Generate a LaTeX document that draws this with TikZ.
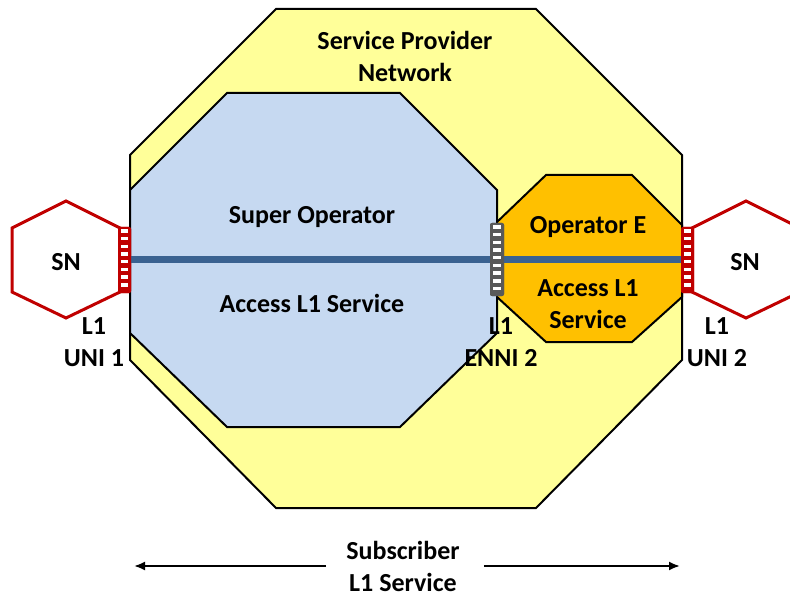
\documentclass[tikz,border=0pt]{standalone}
\usepackage{fontspec}
\setmainfont{Carlito}
\usetikzlibrary{arrows,arrows.meta,positioning}
\definecolor{spnyellow}{HTML}{FFFF99}
\definecolor{opblue}{HTML}{C6D9F1}
\definecolor{oporange}{HTML}{FFC000}
\definecolor{svcblue}{HTML}{3A6291}
\definecolor{snred}{HTML}{C00000}
\definecolor{enngray}{HTML}{595959}

\begin{document}
\begin{tikzpicture}[x=1pt,y=-1pt,>={Latex[length=11pt,width=9pt]},
  txt/.style={font=\fontsize{26}{32}\selectfont\bfseries,align=center,inner sep=0pt},
  octo/.style={draw=black,line width=2pt,line join=miter},
  sn/.style={draw=snred,line width=3pt,line join=miter},
  port/.style={rounded corners=2pt,minimum width=13pt,minimum height=66pt,inner sep=0pt},
  bars/.style={draw=white,line width=7pt,dash pattern=on 3.4pt off 4.3pt}]
\useasboundingbox (0,0) rectangle (790,596);
\clip (0,0) rectangle (790,596);
\draw[octo,fill=spnyellow] (130,155) -- (276,9) -- (536,9) -- (682,155) -- (682,360) -- (536,508) -- (276,508) -- (130,360) -- cycle;
\draw[octo,fill=opblue] (130,190) -- (227,93) -- (400,93) -- (497,190) -- (497,333) -- (400,427) -- (227,427) -- (130,333) -- cycle;
\draw[octo,fill=oporange] (497,222) -- (546,175) -- (632,175) -- (682,225) -- (682,297) -- (632,342) -- (546,342) -- (497,297) -- cycle;
\draw[sn] (66,201) -- (120,228) -- (120,292) -- (66,318) -- (12,292) -- (12,228) -- cycle;
\draw[sn] (746,201) -- (800,228) -- (800,292) -- (746,318) -- (692,292) -- (692,228) -- cycle;
\node[port,fill=snred] (uni1) at (124.5,260) {};
\node[port,fill=snred] (uni2) at (687.5,260) {};
\node[port,fill=enngray,minimum width=14pt,minimum height=73pt] (enni) at (497,259.5) {};
\draw[svcblue,line width=7pt] (uni1.center) -- (uni2.center);
\node[port,fill=snred] at (uni1) {};
\node[port,fill=snred] at (uni2) {};
\node[port,fill=enngray,minimum width=14pt,minimum height=73pt] at (enni) {};
\draw[bars] ([yshift=-2.5pt]uni1.north) -- ([yshift=3pt]uni1.south);
\draw[bars] ([yshift=-2.5pt]uni2.north) -- ([yshift=3pt]uni2.south);
\draw[bars,line width=8pt] ([yshift=-2.5pt]enni.north) -- ([yshift=3pt]enni.south);
\node[txt] (spn) at (405,56) {Service Provider\\Network};
\node[txt] (superop) at (312,217) {Super Operator};
\node[txt] (superacc) at (312,303) {Access L1 Service};
\node[txt] (opE) at (588,227) {Operator E};
\node[txt] (opEacc) at (588,304) {Access L1\\Service};
\node[txt] (snL) at (66,262) {SN};
\node[txt] (snR) at (745,262) {SN};
\node[txt] (lblU1) at (94,342) {L1\\UNI 1};
\node[txt] (lblE2) at (501,342) {L1\\ENNI 2};
\node[txt] (lblU2) at (717,342) {L1\\UNI 2};
\node[txt] (subscr) at (403,566) {Subscriber\\L1 Service};
\coordinate (subL) at (134,566);
\coordinate (subR) at (680,566);
\draw[->,line width=2pt] ([xshift=-20pt]subscr.west) -- (subL);
\draw[->,line width=2pt] ([xshift=24pt]subscr.east) -- (subR);
\end{tikzpicture}
\end{document}
